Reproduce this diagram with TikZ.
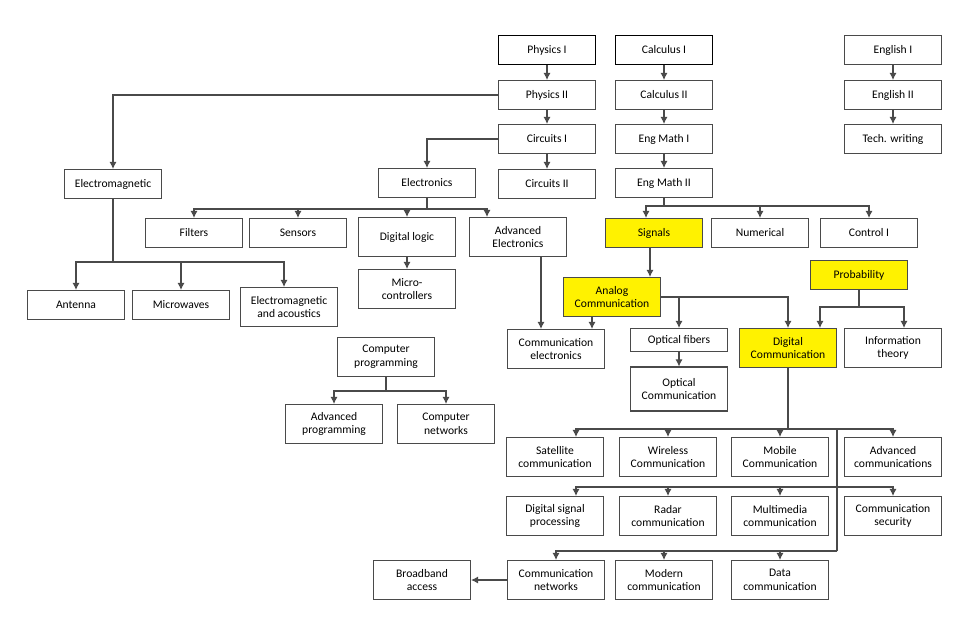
\documentclass[tikz,border=0pt]{standalone}
\usepackage{fontspec}
\setmainfont{Carlito}
\usepackage{tikz}
\usetikzlibrary{
  arrows.meta
}
\tikzset{>={Latex[length=4pt,width=4pt]}}
\definecolor{hilite}{HTML}{FFF200}
\definecolor{edge}{HTML}{4A4A4A}
\tikzset{
  course/.style={draw=edge,line width=0.6pt,fill=white,minimum width=1.94cm,
    minimum height=0.58cm,inner sep=1pt,align=center,
    font=\fontsize{6.6}{7.8}\selectfont},
  tall/.style={minimum height=0.78cm},
  core/.style={course,fill=hilite},
  first/.style={course,draw=black,line width=0.9pt},
  link/.style={draw=edge,line width=0.6pt}
}

\begin{document}
\begin{tikzpicture}[x=0.02cm,y=-0.02cm]
\useasboundingbox (0,0) rectangle (960,633);
% first years
\node[first] (phys1) at (547,50) {Physics I};
\node[first] (calc1) at (664,50) {Calculus I};
\node[course] (eng1) at (893,50) {English I};
\node[course] (phys2) at (547,95) {Physics II};
\node[course] (calc2) at (664,95) {Calculus II};
\node[course] (eng2) at (893,95) {English II};
\node[course] (circ1) at (547,139) {Circuits I};
\node[course] (math1) at (664,139) {Eng Math I};
\node[course] (tech) at (893,139) {Tech. writing};
\node[course] (circ2) at (547,184) {Circuits II};
\node[course] (math2) at (664,183) {Eng Math II};
\node[course] (emag) at (113,184) {Electromagnetic};
\node[course] (elec) at (427,183) {Electronics};
% middle
\node[course] (filt) at (194,233) {Filters};
\node[course] (sens) at (298,233) {Sensors};
\node[course,tall] (dlog) at (407,237) {Digital logic};
\node[course,tall] (advel) at (518,237) {Advanced\\Electronics};
\node[core] (sig) at (654,233) {Signals};
\node[course] (num) at (760,233) {Numerical};
\node[course] (ctrl) at (869,233) {Control I};
\node[course] (ant) at (76,305) {Antenna};
\node[course] (micw) at (181,305) {Microwaves};
\node[course,tall] (emac) at (289,307) {Electromagnetic\\and acoustics};
\node[course,tall] (mcu) at (407,289) {Micro-\\controllers};
\node[core] (prob) at (859,275) {Probability};
\node[core,tall] (analog) at (612,297) {Analog\\Communication};
\node[course,tall] (comel) at (556,349) {Communication\\electronics};
\node[course,minimum height=0.46cm] (ofib) at (679,340) {Optical fibers};
\node[course,minimum height=0.88cm] (ocom) at (679,389) {Optical\\Communication};
\node[core,tall] (digc) at (788,348) {Digital\\Communication};
\node[course,tall] (info) at (893,348) {Information\\theory};
\node[course,tall] (cprog) at (386,357) {Computer\\programming};
\node[course,tall] (advp) at (334,424) {Advanced\\programming};
\node[course,tall] (cnet) at (446,424) {Computer\\networks};
% last years
\node[course,tall] (sat) at (555,457) {Satellite\\communication};
\node[course,tall] (wless) at (668,457) {Wireless\\Communication};
\node[course,tall] (mob) at (780,457) {Mobile\\Communication};
\node[course,tall] (advc) at (893,457) {Advanced\\communications};
\node[course,tall] (dsp) at (555,516) {Digital signal\\processing};
\node[course,tall] (radar) at (668,516) {Radar\\communication};
\node[course,tall] (mmed) at (780,516) {Multimedia\\communication};
\node[course,tall] (csec) at (893,516) {Communication\\security};
\node[course,tall] (netw) at (556,580) {Communication\\networks};
\node[course,tall] (bband) at (422,580) {Broadband\\access};
\node[course,tall] (modern) at (664,580) {Modern\\communication};
\node[course,tall] (data) at (780,580) {Data\\communication};
% branch points
\coordinate (ebus) at (427,209);
\coordinate (embus) at (113,262);
\coordinate (mbus) at (664,206);
\coordinate (pbus) at (859,307);
\coordinate (cbus) at (386,391);
\coordinate (dbus) at (788,429);
\coordinate (dtop) at (837,429);
\coordinate (dmid) at (837,487);
\coordinate (dbot) at (837,551);
% chains
\draw[link,->] (phys1) -- (phys2);
\draw[link,->] (phys2) -- (circ1);
\draw[link,->] (circ1) -- (circ2);
\draw[link,->] (calc1) -- (calc2);
\draw[link,->] (calc2) -- (math1);
\draw[link,->] (math1) -- (math2);
\draw[link,->] (eng1) -- (eng2);
\draw[link,->] (eng2) -- (tech);
\draw[link,->] (phys2.west) -| (emag.north);
\draw[link,->] (circ1.west) -| (elec.north);
% electronics
\draw[link] (elec) -- (ebus);
\draw[link,->] (ebus) -| (filt.north);
\draw[link,->] (ebus) -| (sens.north);
\draw[link,->] (ebus) -| (dlog.north);
\draw[link,->] (ebus) -| ([xshift=-0.62cm]advel.north);
\draw[link,->] (dlog) -- (mcu);
\draw[link,->] ([xshift=0.46cm]advel.south) -- ([xshift=0.46cm]advel.south |- comel.north);
% electromagnetic
\draw[link] (emag) -- (embus);
\draw[link,->] (embus) -| (ant.north);
\draw[link,->] (embus) -| (micw.north);
\draw[link,->] (embus) -| ([xshift=-0.1cm]emac.north);
% maths and signals
\draw[link] (math2) -- (mbus);
\draw[link,->] (mbus) -| ([xshift=-0.16cm]sig.north);
\draw[link,->] (mbus) -| (num.north);
\draw[link,->] (mbus) -| (ctrl.north);
\draw[link,->] ([xshift=-0.08cm]sig.south) -- ([xshift=-0.08cm]sig.south |- analog.north);
\draw[link,->] ([xshift=-0.4cm]analog.south) -- ([xshift=-0.4cm]analog.south |- comel.north);
\draw[link,->] (analog.east) -| (digc.north);
\draw[link,->] (analog.east -| ofib.north) -- (ofib.north);
\draw[link,->] (ofib) -- (ocom);
\draw[link] (prob) -- (pbus);
\draw[link,->] (pbus) -| ([xshift=0.64cm]digc.north);
\draw[link,->] (pbus) -| ([xshift=0.22cm]info.north);
% programming
\draw[link] (cprog) -- (cbus);
\draw[link,->] (cbus) -| (advp.north);
\draw[link,->] (cbus) -| (cnet.north);
% digital communication
\draw[link] (digc) -- (dbus);
\draw[link,->] (dbus) -| ([xshift=0.42cm]sat.north);
\draw[link,->] (dbus) -| (wless.north);
\draw[link,->] (dbus) -| (mob.north);
\draw[link,->] (dbus) -| (advc.north);
\draw[link] (dtop) -- (dbot);
\draw[link,->] (dmid) -| ([xshift=0.42cm]dsp.north);
\draw[link,->] (dmid) -| (radar.north);
\draw[link,->] (dmid) -| (mmed.north);
\draw[link,->] (dmid) -| (csec.north);
\draw[link,->] (dbot) -| (netw.north);
\draw[link,->] (dbot) -| (modern.north);
\draw[link,->] (dbot) -| (data.north);
\draw[link,->] (netw) -- (bband);
\end{tikzpicture}
\end{document}
